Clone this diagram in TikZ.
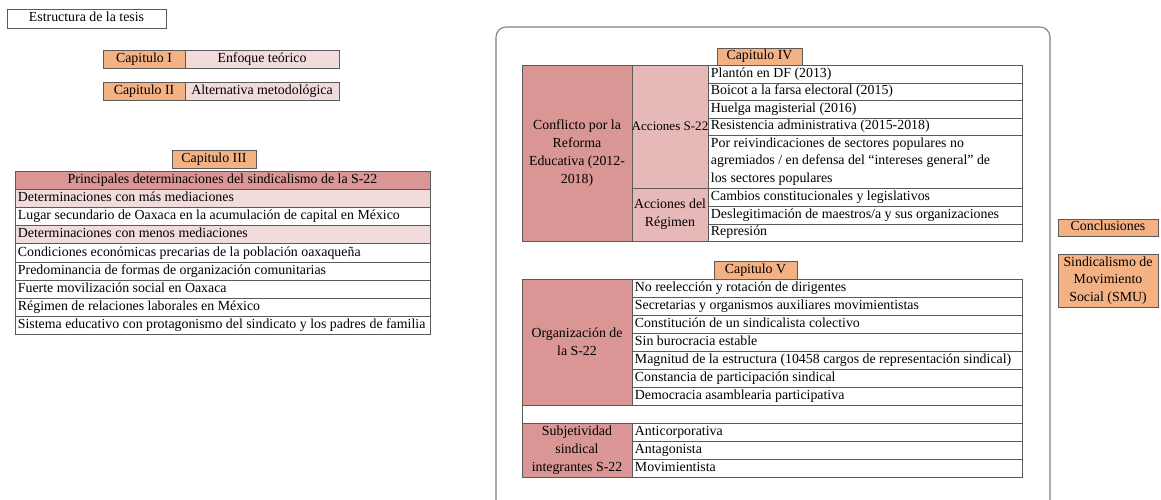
\documentclass[tikz,border=0pt]{standalone}
\usepackage{fontspec}
\setmainfont{Liberation Serif}
\definecolor{orng}{HTML}{F4B183}
\definecolor{pinkl}{HTML}{F2DCDB}
\definecolor{pinkm}{HTML}{E6B8B7}
\definecolor{pinkd}{HTML}{DA9694}
\definecolor{linec}{HTML}{5A5A5A}
\definecolor{framec}{HTML}{808080}
\tikzset{
 cellbox/.style={draw=linec, line width=0.7pt, inner sep=0pt, outer sep=0pt},
 celltext/.style={inner sep=0pt, font=\fontsize{10.4pt}{13.3pt}\selectfont, text=black},
 oneline/.style={text height=7.2pt, text depth=2.3pt},
 framebox/.style={draw=framec, line width=0.8pt, rounded corners=7.5pt},
}
% #1 name, #2 x1, #3 y1, #4 x2, #5 y2, #6 fill, #7 text
\newcommand{\lcell}[7]{%
  \node[cellbox, fill=#6, minimum width={(#4-#2)*0.75pt}, minimum height={(#5-#3)*0.75pt}, anchor=north west] (#1) at (#2,#3) {};
  \node[celltext, oneline, anchor=west] (#1-t) at ([xshift=2pt]#1.west) {#7};
}
\newcommand{\ccell}[7]{%
  \node[cellbox, fill=#6, minimum width={(#4-#2)*0.75pt}, minimum height={(#5-#3)*0.75pt}, anchor=north west] (#1) at (#2,#3) {};
  \node[celltext, align=center] (#1-t) at (#1.center) {#7};
}
\newcommand{\ocell}[7]{%
  \node[cellbox, fill=#6, minimum width={(#4-#2)*0.75pt}, minimum height={(#5-#3)*0.75pt}, anchor=north west] (#1) at (#2,#3) {};
  \node[celltext, oneline] (#1-t) at (#1.center) {#7};
}
\begin{document}
\begin{tikzpicture}[x=0.75pt, y=-0.75pt]
\useasboundingbox (0,0) rectangle (1161,500);
\fill[white] (0,0) rectangle (1161,500);

% title
\ocell{title}{7}{9}{166}{28}{white}{Estructura de la tesis}

% Capitulo I and II
\ocell{c1}{103}{50}{185}{68}{orng}{Capitulo I}
\ocell{c1b}{185}{50}{339}{68}{pinkl}{Enfoque teórico}
\ocell{c2}{103}{82}{185}{100}{orng}{Capitulo II}
\ocell{c2b}{185}{82}{339}{100}{pinkl}{Alternativa metodológica}

% Capitulo III
\ocell{c3}{172}{150}{256}{168}{orng}{Capitulo III}
\ocell{t3h}{15}{171}{430}{189.2}{pinkd}{Principales determinaciones del sindicalismo de la S-22}
\lcell{t3a}{15}{189.2}{430}{207.4}{pinkl}{Determinaciones con más mediaciones}
\lcell{t3b}{15}{207.4}{430}{225.6}{white}{Lugar secundario de Oaxaca en la acumulación de capital en México}
\lcell{t3c}{15}{225.6}{430}{243.8}{pinkl}{Determinaciones con menos mediaciones}
\lcell{t3d}{15}{243.8}{430}{262}{white}{Condiciones económicas precarias de la población oaxaqueña}
\lcell{t3e}{15}{262}{430}{280.2}{white}{Predominancia de formas de organización comunitarias}
\lcell{t3f}{15}{280.2}{430}{298.4}{white}{Fuerte movilización social en Oaxaca}
\lcell{t3g}{15}{298.4}{430}{316.6}{white}{Régimen de relaciones laborales en México}
\lcell{t3i}{15}{316.6}{430}{334.8}{white}{Sistema educativo con protagonismo del sindicato y los padres de familia}

% frame
\draw[framebox] (496,510) -- (496,27) -- (1050,27) -- (1050,510);

% Capitulo IV
\ocell{c4}{717}{48}{802}{65}{orng}{Capitulo IV}
\ccell{t4c1}{522}{65}{632}{241}{pinkd}{Conflicto por la\\Reforma\\Educativa (2012-\\2018)}
\ccell{t4c2a}{632}{65}{708}{188}{pinkm}{\fontsize{9.8pt}{13pt}\selectfont Acciones S-22}
\ccell{t4c2b}{632}{188}{708}{241}{pinkm}{Acciones del\\Régimen}
\lcell{t4r1}{708}{65}{1022}{83}{white}{Plantón en DF (2013)}
\lcell{t4r2}{708}{83}{1022}{100}{white}{Boicot a la farsa electoral (2015)}
\lcell{t4r3}{708}{100}{1022}{118}{white}{Huelga magisterial (2016)}
\lcell{t4r4}{708}{118}{1022}{135}{white}{Resistencia administrativa (2015-2018)}
\node[cellbox, fill=white, minimum width={314*0.75pt}, minimum height={53*0.75pt}, anchor=north west] (t4r5) at (708,135) {};
\node[celltext, align=left, anchor=west] (t4r5-t) at ([xshift=2pt]t4r5.west) {Por reivindicaciones de sectores populares no\\agremiados / en defensa del “intereses general” de\\los sectores populares};
\lcell{t4r6}{708}{188}{1022}{206}{white}{Cambios constitucionales y legislativos}
\lcell{t4r7}{708}{206}{1022}{224}{white}{Deslegitimación de maestros/a y sus organizaciones}
\lcell{t4r8}{708}{224}{1022}{241}{white}{Represión}

% Capitulo V
\ocell{c5}{714}{261}{797}{279}{orng}{Capitulo V}
\ccell{t5c1a}{522}{279}{632}{405}{pinkd}{Organización de\\la S-22}
\lcell{t5r1}{632}{279}{1022}{297}{white}{No reelección y rotación de dirigentes}
\lcell{t5r2}{632}{297}{1022}{315}{white}{Secretarias y organismos auxiliares movimientistas}
\lcell{t5r3}{632}{315}{1022}{333}{white}{Constitución de un sindicalista colectivo}
\lcell{t5r4}{632}{333}{1022}{351}{white}{Sin burocracia estable}
\lcell{t5r5}{632}{351}{1022}{369}{white}{Magnitud de la estructura (10458 cargos de representación sindical)}
\lcell{t5r6}{632}{369}{1022}{387}{white}{Constancia de participación sindical}
\lcell{t5r7}{632}{387}{1022}{405}{white}{Democracia asamblearia participativa}
\node[cellbox, fill=white, minimum width={500*0.75pt}, minimum height={18*0.75pt}, anchor=north west] (t5blank) at (522,405) {};
\ccell{t5c1b}{522}{423}{632}{477}{pinkd}{Subjetividad\\sindical\\integrantes S-22}
\lcell{t5s1}{632}{423}{1022}{441}{white}{Anticorporativa}
\lcell{t5s2}{632}{441}{1022}{459}{white}{Antagonista}
\lcell{t5s3}{632}{459}{1022}{477}{white}{Movimientista}

% Conclusions
\ocell{conc}{1058}{219}{1158}{236}{orng}{Conclusiones}
\ccell{smu}{1058}{254}{1158}{307}{orng}{Sindicalismo de\\Movimiento\\Social (SMU)}
\end{tikzpicture}
\end{document}
